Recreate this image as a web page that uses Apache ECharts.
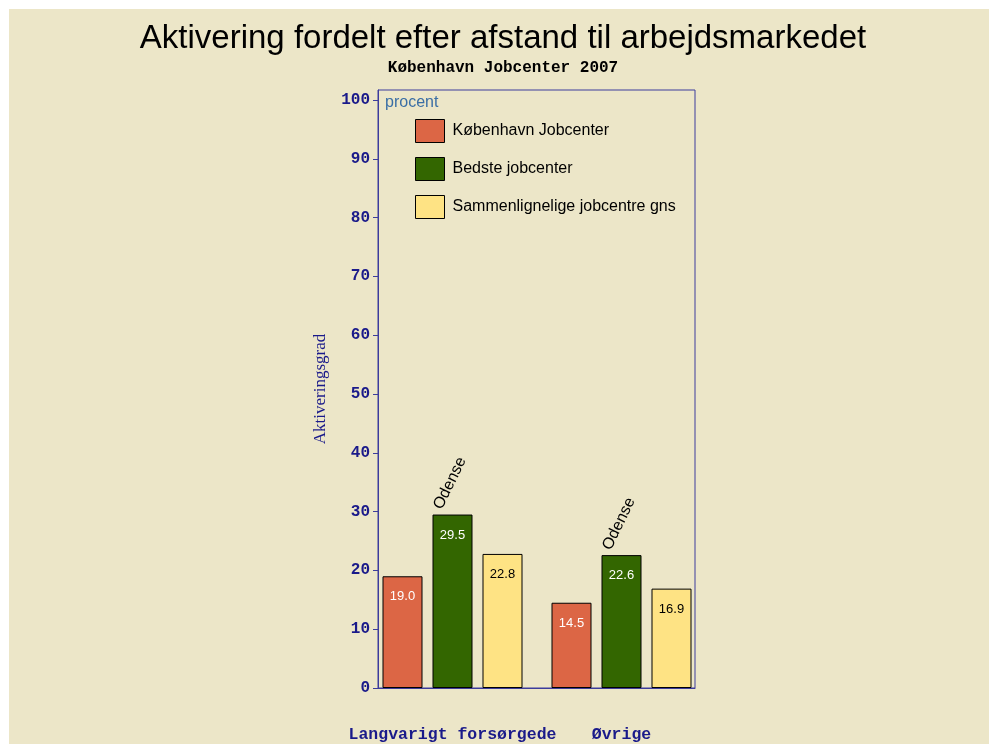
<!DOCTYPE html>
<html>
<head>
<meta charset="utf-8">
<script src="https://cdn.jsdelivr.net/npm/echarts@6/dist/echarts.min.js"></script>
<style>
html,body{margin:0;padding:0;background:#ffffff;}
#chart{position:absolute;left:9px;top:9px;width:980px;height:735px;}
</style>
</head>
<body>
<div id="chart"></div>
<script>
var categories = ['Langvarigt forsørgede', 'Øvrige'];
var seriesNames = ['København Jobcenter', 'Bedste jobcenter', 'Sammenlignelige jobcentre gns'];
var kobenhavn = [19.0, 14.5];
var bedste = [29.5, 22.6];
var sammenlignelige = [22.8, 16.9];
var bedsteNames = ['Odense', 'Odense'];
var yTicks = [0, 10, 20, 30, 40, 50, 60, 70, 80, 90, 100];

var navy = '#1a1a8a';
var frame = '#3c3c9c';
var colors = ['#DC6645', '#336600', '#FEE384'];
var labelColors = ['#ffffff', '#ffffff', '#000000'];
var dataSets = [kobenhavn, bedste, sammenlignelige];

var chart = echarts.init(document.getElementById('chart'));

var series = dataSets.map(function (d, i) {
  var s = {
    name: seriesNames[i],
    type: 'bar',
    xAxisIndex: 1,
    yAxisIndex: 1,
    data: d,
    barWidth: 40,
    barGap: '25%',
    itemStyle: { color: colors[i], borderColor: '#000000', borderWidth: 1 },
    label: {
      show: true,
      position: 'insideTop',
      distance: 14,
      color: labelColors[i],
      fontFamily: 'Liberation Sans',
      fontSize: 13,
      formatter: function (p) { return p.value.toFixed(1); }
    }
  };
  if (i === 1) {
    s.markPoint = {
      symbol: 'circle',
      symbolSize: 0,
      data: d.map(function (v, k) {
        return { coord: [k, v], value: bedsteNames[k] };
      }),
      label: {
        show: true,
        position: 'inside',
        rotate: 64,
        align: 'left',
        verticalAlign: 'middle',
        offset: [-1, -16],
        color: '#000000',
        fontFamily: 'Liberation Sans',
        fontSize: 16,
        formatter: function (p) { return p.value; }
      }
    };
  }
  return s;
});

chart.setOption({
  backgroundColor: '#ECE6C8',
  animation: false,
  title: [
    {
      text: 'Aktivering fordelt efter afstand til arbejdsmarkedet',
      subtext: 'København Jobcenter 2007',
      left: 489,
      textAlign: 'center',
      top: 8,
      itemGap: 5,
      textStyle: { fontFamily: 'Liberation Sans', fontSize: 33, fontWeight: 'normal', color: '#000000' },
      subtextStyle: { fontFamily: 'Liberation Mono', fontSize: 16, fontWeight: 'bold', color: '#000000' }
    },
    {
      text: 'procent',
      left: 371,
      top: 81,
      textStyle: { fontFamily: 'Liberation Sans', fontSize: 16, fontWeight: 'normal', color: '#3a6ea5' }
    }
  ],
  legend: {
    orient: 'vertical',
    left: 401,
    top: 105,
    itemWidth: 29,
    itemHeight: 23,
    itemGap: 14,
    icon: 'rect',
    data: seriesNames,
    textStyle: { fontFamily: 'Liberation Sans', fontSize: 16, color: '#000000', padding: [0, 0, 0, 3] },
    itemStyle: { borderColor: '#000000', borderWidth: 1 }
  },
  grid: [
    {
      left: 369,
      right: 294,
      top: 81,
      bottom: 56,
      show: true,
      borderColor: frame,
      borderWidth: 1,
      backgroundColor: 'transparent'
    },
    {
      left: 359,
      right: 283,
      top: 81,
      bottom: 56
    }
  ],
  xAxis: [
    {
      gridIndex: 0,
      type: 'category',
      data: categories,
      axisLine: { lineStyle: { color: frame } },
      axisTick: { show: false },
      axisLabel: { show: false }
    },
    {
      gridIndex: 1,
      type: 'category',
      data: categories,
      axisLine: { show: false },
      axisTick: { show: false },
      axisLabel: {
        interval: 0,
        margin: 38,
        color: navy,
        fontFamily: 'Liberation Mono',
        fontWeight: 'bold',
        fontSize: 16.5
      }
    }
  ],
  yAxis: [
    {
      gridIndex: 0,
      type: 'value',
      min: 0,
      max: 101.7,
      name: 'Aktiveringsgrad',
      nameLocation: 'middle',
      nameGap: 49,
      nameTextStyle: { fontFamily: 'Liberation Serif', fontSize: 17, color: navy },
      axisLine: { show: true, lineStyle: { color: frame } },
      axisTick: { show: true, length: 5, customValues: yTicks, lineStyle: { color: frame } },
      splitLine: { show: false },
      axisLabel: {
        customValues: yTicks,
        margin: 8,
        color: navy,
        fontFamily: 'Liberation Mono',
        fontWeight: 'bold',
        fontSize: 16
      }
    },
    {
      gridIndex: 1,
      type: 'value',
      min: 0,
      max: 101.7,
      show: false,
      splitLine: { show: false }
    }
  ],
  series: series
});
</script>
</body>
</html>
